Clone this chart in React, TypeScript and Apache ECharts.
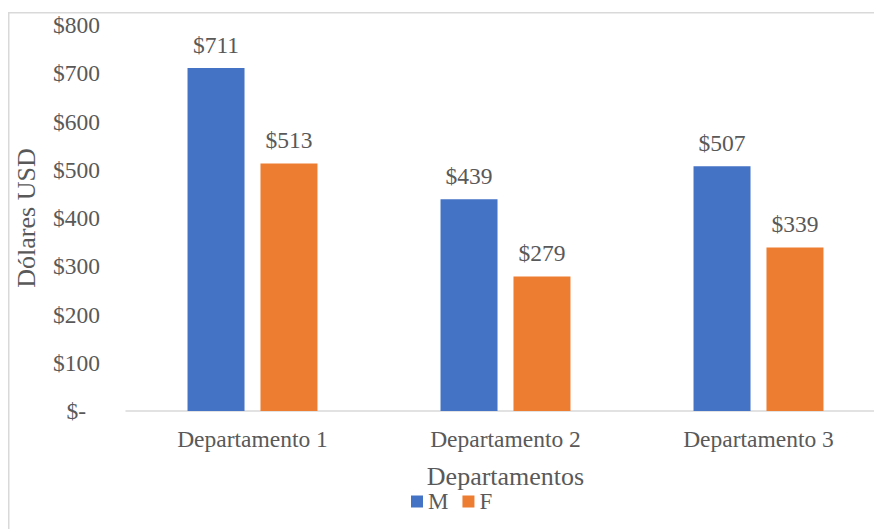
import React, { useEffect, useRef } from "react";
import * as echarts from "echarts";

const categories = ["Departamento 1", "Departamento 2", "Departamento 3"];
const seriesNames = ["M", "F"];
const valuesM = [711, 439, 507];
const valuesF = [513, 279, 339];
const yTicks = [0, 100, 200, 300, 400, 500, 600, 700, 800];

const FONT = "Liberation Serif";
const TXT = "#595959";

export default function App() {
  const ref = useRef<HTMLDivElement>(null);
  useEffect(() => {
    if (!ref.current) return;
    const chart = echarts.init(ref.current, null, { renderer: "svg" });
    const fmt = (v: number) => (v === 0 ? "{z|$-}" : "$" + v);
    const barLabel = {
      show: true,
      position: "top",
      distance: 11,
      fontFamily: FONT,
      color: TXT,
      fontSize: 23.5,
      formatter: (p: any) => "$" + p.value,
    };
    chart.setOption({
      animation: false,
      backgroundColor: "#ffffff",
      textStyle: { fontFamily: FONT, color: TXT },
      graphic: [
        {
          type: "rect",
          shape: { x: 8.75, y: 12.75, width: 900, height: 600 },
          style: { fill: "none", stroke: "#d9d9d9", lineWidth: 1.5 },
          silent: true,
        },
      ],
      grid: {
        left: 126,
        width: 759,
        top: 25,
        height: 386,
        containLabel: false,
        outerBoundsMode: "none",
      },
      legend: {
        left: 411,
        top: 490,
        padding: 0,
        itemWidth: 12,
        itemHeight: 12,
        itemGap: 14,
        icon: "rect",
        data: seriesNames,
        textStyle: { fontFamily: FONT, color: TXT, fontSize: 23, lineHeight: 18, padding: [2, 0, 0, 0] },
      },
      xAxis: {
        type: "category",
        data: categories,
        name: "Departamentos",
        nameLocation: "middle",
        nameGap: 53,
        nameTextStyle: { fontFamily: FONT, color: TXT, fontSize: 26, lineHeight: 24 },
        axisLine: { show: true, lineStyle: { color: "#d9d9d9", width: 1.5 } },
        axisTick: { show: false },
        axisLabel: { fontFamily: FONT, color: TXT, fontSize: 23.5, margin: 16 },
      },
      yAxis: {
        type: "value",
        min: yTicks[0],
        max: yTicks[yTicks.length - 1],
        interval: 100,
        name: "Dólares USD",
        nameLocation: "middle",
        nameGap: 87,
        nameTextStyle: { fontFamily: FONT, color: TXT, fontSize: 26 },
        axisLine: { show: false },
        axisTick: { show: false },
        splitLine: { show: false },
        axisLabel: {
          fontFamily: FONT,
          color: TXT,
          fontSize: 23.5,
          margin: 26,
          formatter: fmt,
          rich: { z: { fontFamily: FONT, color: TXT, fontSize: 23.5, padding: [0, 14, 0, 0] } },
        },
      },
      series: [
        {
          name: seriesNames[0],
          type: "bar",
          data: valuesM,
          barWidth: 57,
          barGap: "28%",
          itemStyle: { color: "#4472C4" },
          label: barLabel,
        },
        {
          name: seriesNames[1],
          type: "bar",
          data: valuesF,
          barWidth: 57,
          barGap: "28%",
          itemStyle: { color: "#ED7D31" },
          label: barLabel,
        },
      ],
    });
    return () => chart.dispose();
  }, []);
  return (
    <div
      ref={ref}
      style={{ position: "fixed", left: 0, top: 0, width: 874, height: 529 }}
    />
  );
}
